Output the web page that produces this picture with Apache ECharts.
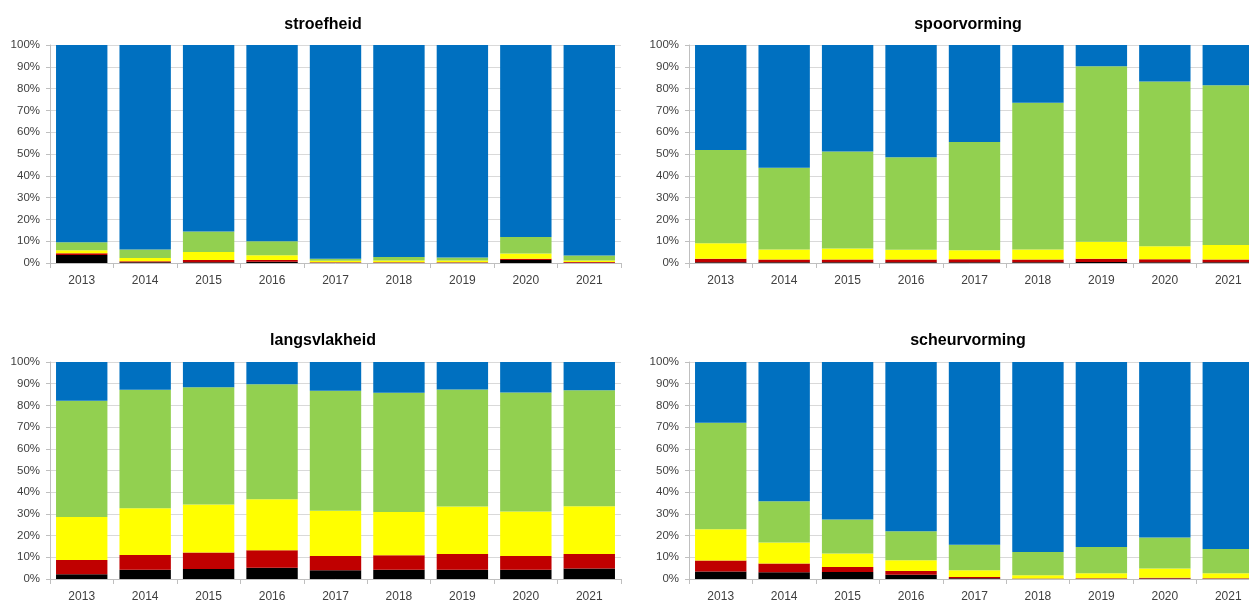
<!DOCTYPE html>
<html>
<head>
<meta charset="utf-8">
<script src="https://cdn.jsdelivr.net/npm/echarts@6/dist/echarts.min.js"></script>
<style>
html,body{margin:0;padding:0;background:#fff;}
#c{width:1249px;height:601px;}
</style>
</head>
<body>
<div id="c"></div>
<script>
const years = ['2013','2014','2015','2016','2017','2018','2019','2020','2021'];
const titles = ['stroefheid','spoorvorming','langsvlakheid','scheurvorming'];
const classNames = ['zwart','rood','geel','groen','blauw'];
const classColors = ['#000000','#C00000','#FFFF00','#92D050','#0070C0'];

// stroefheid
const stroefBlack  = [3.7, 0.3, 0.4, 0.6, 0.1, 0.1, 0.1, 1.4, 0.1];
const stroefRed    = [0.8, 0.5, 1.0, 0.8, 0.3, 0.3, 0.3, 0.6, 0.4];
const stroefYellow = [1.3, 1.5, 3.6, 2.2, 0.6, 0.7, 0.7, 2.4, 0.6];
const stroefGreen  = [3.7, 3.9, 9.5, 6.4, 1.0, 1.6, 1.4, 7.5, 2.3];
const stroefBlue   = [90.5, 93.8, 85.5, 90.0, 98.0, 97.3, 97.5, 88.1, 96.6];

// spoorvorming
const spoorBlack  = [0.3, 0.3, 0.3, 0.3, 0.3, 0.3, 0.5, 0.3, 0.3];
const spoorRed    = [1.7, 1.3, 1.3, 1.3, 1.4, 1.3, 1.5, 1.4, 1.3];
const spoorYellow = [7.1, 4.6, 5.1, 4.5, 4.2, 4.6, 7.8, 6.0, 6.7];
const spoorGreen  = [42.7, 37.5, 44.4, 42.4, 49.6, 67.3, 80.4, 75.5, 73.2];
const spoorBlue   = [48.2, 56.3, 48.9, 51.5, 44.5, 26.5, 9.8, 16.8, 18.5];

// langsvlakheid
const langsBlack  = [2.2, 4.3, 4.6, 5.2, 4.0, 4.3, 4.3, 4.3, 4.8];
const langsRed    = [6.6, 6.8, 7.6, 8.0, 6.6, 6.6, 7.2, 6.3, 6.7];
const langsYellow = [19.8, 21.5, 22.1, 23.6, 20.9, 20.0, 21.9, 20.5, 22.0];
const langsGreen  = [53.6, 54.6, 54.1, 53.0, 55.2, 54.9, 53.9, 54.8, 53.5];
const langsBlue   = [17.8, 12.8, 11.6, 10.2, 13.3, 14.2, 12.7, 14.1, 13.0];

// scheurvorming
const scheurBlack  = [3.5, 3.1, 3.2, 2.0, 0.3, 0.1, 0.1, 0.2, 0.1];
const scheurRed    = [5.0, 4.0, 2.3, 1.7, 0.6, 0.1, 0.2, 0.4, 0.2];
const scheurYellow = [14.4, 9.7, 6.2, 4.9, 3.1, 1.5, 2.3, 4.2, 2.3];
const scheurGreen  = [49.1, 19.0, 15.7, 13.4, 11.8, 10.8, 12.2, 14.3, 11.2];
const scheurBlue   = [28.0, 64.2, 72.6, 78.0, 84.2, 87.5, 85.2, 80.9, 86.2];

const panels = [
  [stroefBlack, stroefRed, stroefYellow, stroefGreen, stroefBlue],
  [spoorBlack, spoorRed, spoorYellow, spoorGreen, spoorBlue],
  [langsBlack, langsRed, langsYellow, langsGreen, langsBlue],
  [scheurBlack, scheurRed, scheurYellow, scheurGreen, scheurBlue]
];

const font = 'Liberation Sans, Arial, sans-serif';
const gridPos = [
  {left: 50, top: 45, width: 571, height: 218},
  {left: 689, top: 45, width: 571, height: 218},
  {left: 50, top: 362, width: 571, height: 217},
  {left: 689, top: 362, width: 571, height: 217}
];
const titlePos = [[318, 12], [963, 12], [318, 328], [963, 328]];

const option = {
  animation: false,
  backgroundColor: '#ffffff',
  title: titles.map((t, i) => ({
    text: t, left: titlePos[i][0], top: titlePos[i][1], textAlign: 'center',
    textStyle: {fontFamily: font, fontSize: 16, fontWeight: 'bold', color: '#000'}
  })),
  grid: gridPos.map(g => Object.assign({containLabel: false, outerBoundsMode: 'none'}, g)),
  xAxis: gridPos.map((g, i) => ({
    type: 'category', gridIndex: i, data: years, boundaryGap: true,
    axisLine: {lineStyle: {color: '#BFBFBF', width: 1}},
    axisTick: {show: true, length: 5, alignWithLabel: false, lineStyle: {color: '#BFBFBF'}},
    axisLabel: {fontFamily: font, fontSize: 12, color: '#404040', margin: 12}
  })),
  yAxis: gridPos.map((g, i) => ({
    type: 'value', gridIndex: i, min: 0, max: 100, interval: 10,
    axisLine: {show: true, lineStyle: {color: '#BFBFBF', width: 1}},
    axisTick: {show: true, length: 4, lineStyle: {color: '#BFBFBF'}},
    axisLabel: {formatter: '{value}%', fontFamily: font, fontSize: 11.5, color: '#404040', margin: 10},
    splitLine: {show: true, lineStyle: {color: '#D9D9D9', width: 1}}
  })),
  series: []
};

panels.forEach((arrs, p) => {
  arrs.forEach((vals, k) => {
    option.series.push({
      type: 'bar', name: classNames[k], stack: 'p' + p,
      xAxisIndex: p, yAxisIndex: p,
      barCategoryGap: '19%',
      data: vals,
      itemStyle: {color: classColors[k]}
    });
  });
});

const chart = echarts.init(document.getElementById('c'), null, {renderer: 'canvas'});
chart.setOption(option);
</script>
</body>
</html>
